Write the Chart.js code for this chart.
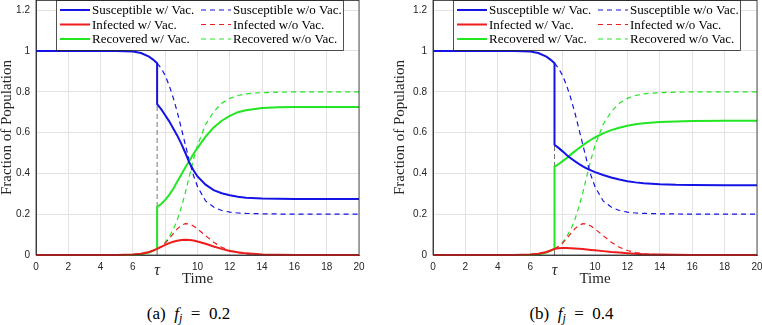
<!DOCTYPE html>
<html>
<head>
<meta charset="utf-8">
<script src="https://cdn.jsdelivr.net/npm/chart.js@4"></script>
<style>
  body { margin: 0; background: #fff; }
  #wrap { position: relative; width: 762px; height: 325px; }
  canvas { position: absolute; top: 0; }
  .cap { position: absolute; top: 304px; width: 381px; text-align: center; font: 17px "Liberation Serif", serif; color: #000; line-height: 20px; }
  .cap sub { font-size: 12px; vertical-align: -3px; line-height: 0; }
</style>
</head>
<body>
<div id="wrap">
  <canvas id="chartA" width="381" height="298" style="left:0"></canvas>
  <canvas id="chartB" width="381" height="298" style="left:381px"></canvas>
  <div class="cap" style="left:-2px">(a)&nbsp; <i>f<sub>j</sub></i>&nbsp; =&nbsp; 0.2</div>
  <div class="cap" style="left:381px">(b)&nbsp; <i>f<sub>j</sub></i>&nbsp; =&nbsp; 0.4</div>
</div>
<script>
// vaccination time
const tau = 7.5;

// x ticks (the 8 grid line keeps no label, tau gets its own)
const xTickValues = [0, 2, 4, 6, 7.5, 8, 10, 12, 14, 16, 18, 20];
const xTickLabels = ['0', '2', '4', '6', 'τ', '', '10', '12', '14', '16', '18', '20'];
const yTickValues = [0, 0.2, 0.4, 0.6, 0.8, 1, 1.2];
const yTickLabels = ['0', '0.2', '0.4', '0.6', '0.8', '1', '1.2'];

// before tau (same in both panels)
const tBefore = [0, 1, 2, 3, 4, 5, 5.5, 6, 6.5, 7, 7.25, 7.5];
const sBefore = [1, 1, 1, 1, 1, 1, 0.999, 0.997, 0.99, 0.972, 0.958, 0.94];
const iBefore = [0, 0, 0, 0, 0, 0, 0.001, 0.002, 0.006, 0.015, 0.022, 0.03];
const rBefore = [0, 0, 0, 0, 0, 0, 0, 0.001, 0.004, 0.012, 0.02, 0.03];

// after tau
const tAfter = [7.5, 7.75, 8, 8.25, 8.5, 8.75, 9, 9.25, 9.5, 9.75, 10, 10.5, 11, 11.5, 12, 12.5, 13, 14, 15, 16, 18, 20];

// (a) f_j = 0.2, with vaccination
const sVacA = [0.74, 0.715, 0.685, 0.655, 0.62, 0.585, 0.545, 0.5, 0.452, 0.415, 0.385, 0.345, 0.318, 0.303, 0.293, 0.286, 0.281, 0.277, 0.276, 0.275, 0.275, 0.275];
const iVacA = [0.03, 0.04, 0.05, 0.058, 0.065, 0.07, 0.073, 0.075, 0.074, 0.071, 0.066, 0.055, 0.042, 0.03, 0.02, 0.013, 0.008, 0.003, 0.001, 0, 0, 0];
const rVacA = [0.235, 0.25, 0.27, 0.295, 0.325, 0.36, 0.395, 0.43, 0.462, 0.495, 0.525, 0.58, 0.625, 0.658, 0.682, 0.7, 0.71, 0.72, 0.724, 0.725, 0.726, 0.726];

// (b) f_j = 0.4, with vaccination
const sVacB = [0.54, 0.525, 0.508, 0.49, 0.474, 0.46, 0.447, 0.435, 0.424, 0.415, 0.406, 0.392, 0.38, 0.37, 0.362, 0.356, 0.352, 0.347, 0.344, 0.343, 0.342, 0.342];
const iVacB = [0.03, 0.033, 0.034, 0.034, 0.033, 0.032, 0.031, 0.029, 0.027, 0.025, 0.023, 0.019, 0.015, 0.012, 0.009, 0.006, 0.004, 0.002, 0.001, 0, 0, 0];
const rVacB = [0.433, 0.445, 0.46, 0.475, 0.492, 0.508, 0.523, 0.538, 0.552, 0.565, 0.576, 0.596, 0.612, 0.624, 0.634, 0.641, 0.646, 0.652, 0.655, 0.657, 0.658, 0.658];

// without vaccination (same in both panels)
const sNoVac = [0.94, 0.915, 0.88, 0.83, 0.77, 0.7, 0.62, 0.54, 0.46, 0.39, 0.335, 0.265, 0.235, 0.218, 0.21, 0.206, 0.204, 0.202, 0.201, 0.2, 0.2, 0.2];
const iNoVac = [0.03, 0.042, 0.058, 0.08, 0.105, 0.128, 0.145, 0.154, 0.152, 0.142, 0.128, 0.095, 0.063, 0.038, 0.022, 0.012, 0.006, 0.002, 0.001, 0, 0, 0];
const rNoVac = [0.03, 0.043, 0.062, 0.09, 0.125, 0.172, 0.235, 0.306, 0.388, 0.468, 0.537, 0.64, 0.702, 0.744, 0.768, 0.782, 0.79, 0.796, 0.798, 0.8, 0.8, 0.8];

// dashed marker line at tau
const tauLineY = [0, 0.94];

const BLUE = '#1414e6', RED = '#ee1c1c', GREEN = '#22e622';

function pts(ts, vs) {
    return ts.map((t, i) => ({ x: t, y: vs[i] }));
}

function line(label, data, color, dashed) {
    return {
        label: label,
        data: data,
        borderColor: color,
        borderWidth: dashed ? 1.2 : 2,
        borderDash: dashed ? [5, 4] : [],
        pointRadius: 0,
        tension: 0,
        clip: false
    };
}

// legend box drawn inside the plot, two columns
const boxLegend = {
    id: 'boxLegend',
    afterDatasetsDraw(chart) {
        const { ctx, chartArea: ca } = chart;
        const items = chart.data.datasets.filter(d => d.label);
        const x0 = ca.left + 20, y0 = ca.top, w = 287, h = 50;
        ctx.save();
        ctx.fillStyle = '#fff';
        ctx.fillRect(x0, y0, w, h);
        ctx.strokeStyle = '#262626';
        ctx.lineWidth = 0.8;
        ctx.strokeRect(x0 + 0.5, y0 + 0.5, w, h);
        ctx.font = '13px "Liberation Serif"';
        ctx.textBaseline = 'middle';
        items.forEach((d, i) => {
            const col = i < 3 ? 0 : 1;
            const row = i % 3;
            const lx = x0 + 4 + col * 141;
            const ly = y0 + 10 + row * 14.5;
            ctx.strokeStyle = d.borderColor;
            ctx.lineWidth = d.borderWidth;
            ctx.setLineDash(d.borderDash);
            ctx.beginPath();
            ctx.moveTo(lx, ly);
            ctx.lineTo(lx + 30, ly);
            ctx.stroke();
            ctx.setLineDash([]);
            ctx.fillStyle = '#000';
            ctx.fillText(d.label, lx + 32, ly + 1);
        });
        ctx.restore();
    },
    afterDraw(chart) {
        const { ctx, chartArea: ca } = chart;
        ctx.save();
        ctx.strokeStyle = '#262626';
        ctx.lineWidth = 0.8;
        ctx.strokeRect(ca.left, ca.top + 0.5, ca.right - ca.left, ca.bottom - ca.top - 0.5);
        ctx.restore();
    }
};

function makeChart(id, sVac, iVac, rVac, yWidth, padRight, yTitlePad) {
    const ctx = document.getElementById(id).getContext('2d');
    return new Chart(ctx, {
        type: 'line',
        data: {
            datasets: [
                line('Susceptible w/ Vac.', pts(tBefore.concat(tAfter), sBefore.concat(sVac)), BLUE, false),
                line('Infected w/ Vac.', pts(tBefore.concat(tAfter), iBefore.concat(iVac)), RED, false),
                line('Recovered w/ Vac.', pts(tBefore.concat(tAfter), rBefore.concat(rVac)), GREEN, false),
                line('Susceptible w/o Vac.', pts(tAfter, sNoVac), BLUE, true),
                line('Infected w/o Vac.', pts(tAfter, iNoVac), RED, true),
                line('Recovered w/o Vac.', pts(tAfter, rNoVac), GREEN, true),
                {
                    label: '',
                    data: pts([tau, tau], tauLineY),
                    borderColor: '#777',
                    borderWidth: 1,
                    borderDash: [5, 3],
                    pointRadius: 0,
                    order: 10
                }
            ]
        },
        options: {
            responsive: false,
            animation: false,
            devicePixelRatio: 1,
            layout: { padding: { top: 0, right: padRight, left: 0, bottom: 0 } },
            plugins: { legend: { display: false }, tooltip: { enabled: false } },
            scales: {
                x: {
                    type: 'linear',
                    min: 0,
                    max: 20,
                    afterBuildTicks: s => { s.ticks = xTickValues.map(v => ({ value: v })); },
                    afterFit: s => { s.height = 43; s.paddingLeft = 0; s.paddingRight = 0; },
                    grid: {
                        color: c => (c.tick && c.tick.value === tau) ? 'rgba(0,0,0,0)' : '#e3e3e3',
                        drawTicks: false
                    },
                    border: { color: '#262626', width: 0.8 },
                    ticks: {
                        padding: 6,
                        color: '#262626',
                        maxRotation: 0,
                        autoSkip: false,
                        font: c => (c.tick && c.tick.value === tau)
                            ? { family: 'Liberation Serif', style: 'italic', size: 16 }
                            : { family: 'Liberation Sans', size: 10 },
                        callback: (v, i) => xTickLabels[i]
                    },
                    title: {
                        display: true,
                        text: 'Time',
                        color: '#262626',
                        font: { family: 'Liberation Serif', size: 15, lineHeight: 1 },
                        padding: { top: 0, bottom: 11.5 }
                    }
                },
                y: {
                    min: 0,
                    max: 1.25,
                    afterBuildTicks: s => { s.ticks = yTickValues.map(v => ({ value: v })); },
                    afterFit: s => { s.width = yWidth; s.paddingTop = 0; s.paddingBottom = 0; },
                    grid: { color: '#e3e3e3', drawTicks: false },
                    border: { color: '#262626', width: 0.8 },
                    ticks: {
                        padding: 6,
                        color: '#262626',
                        font: { family: 'Liberation Sans', size: 10 },
                        callback: (v, i) => yTickLabels[i]
                    },
                    title: {
                        display: true,
                        text: 'Fraction of Population',
                        color: '#262626',
                        font: { family: 'Liberation Serif', size: 15, lineHeight: 1 },
                        padding: { top: yTitlePad, bottom: 0 }
                    }
                }
            }
        },
        plugins: [boxLegend]
    });
}

makeChart('chartA', sVacA, iVacA, rVacA, 36, 22, 0);
makeChart('chartB', sVacB, iVacB, rVacB, 52, 5, 12);
</script>
</body>
</html>
